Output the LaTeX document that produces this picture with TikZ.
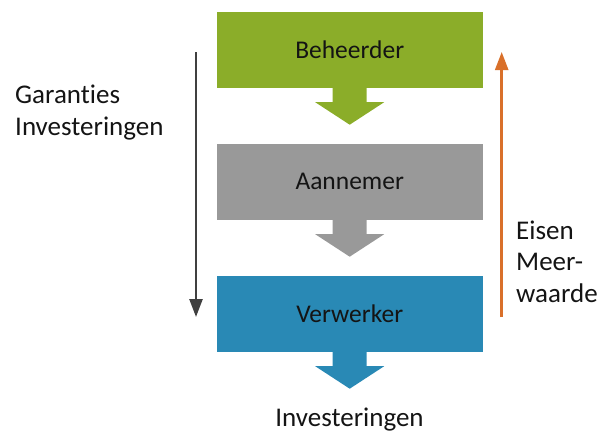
\documentclass[tikz,border=0pt]{standalone}
\usepackage{fontspec}
\setmainfont[Ligatures=NoCommon]{Carlito}
\usetikzlibrary{arrows.meta,calc}
\definecolor{cgreen}{RGB}{139,173,41}
\definecolor{cgray}{RGB}{153,153,153}
\definecolor{cblue}{RGB}{41,137,181}
\definecolor{corange}{RGB}{217,112,42}
\definecolor{cdark}{RGB}{64,64,64}
\definecolor{ctext}{RGB}{20,20,20}
\begin{document}
\begin{tikzpicture}[x=1pt,y=-1pt,
  stage/.style={minimum width=266pt,minimum height=75.5pt,inner sep=0pt,text=ctext,font=\fontsize{25.5}{31.5}\selectfont},
  lbl/.style={inner sep=0pt,text=ctext,font=\fontsize{27}{31.5}\selectfont,align=left},
  flowarrow/.style={line width=2.5pt,-{Triangle[length=18pt,width=13pt]}}
]
\useasboundingbox (0,0) rectangle (608,434);
\node[stage,fill=cgreen] (b1) at (349.7,49.75) {Beheerder};
\node[stage,fill=cgray] (b2) at (349.7,181.75) {Aannemer};
\node[stage,fill=cblue] (b3) at (349.7,313.75) {Verwerker};
\foreach \b/\c in {b1/cgreen,b2/cgray,b3/cblue}{
  \fill[\c] ($(\b.south)+(-17,0)$) -- ++(0,14.5) -- ++(-17.5,0) -- ($(\b.south)+(0,37)$)
    -- ($(\b.south)+(34.5,14.5)$) -- ++(-17.5,0) -- ($(\b.south)+(17,0)$) -- cycle;
}
\node[lbl,anchor=base] (inv) at (349.5,426.7) {Investeringen};
\node[lbl,anchor=base west] (gar) at (15,135) {Garanties\\Investeringen};
\node[lbl,anchor=base west] (eis) at (516,302) {Eisen\\Meer-\\waarde};
\coordinate (gtop) at (196,52);
\coordinate (gbot) at (196,317);
\coordinate (ebot) at (501.7,317);
\coordinate (etop) at (501.7,52);
\draw[flowarrow,cdark] (gtop) -- (gbot);
\draw[flowarrow,corange] (ebot) -- (etop);
\end{tikzpicture}
\end{document}
